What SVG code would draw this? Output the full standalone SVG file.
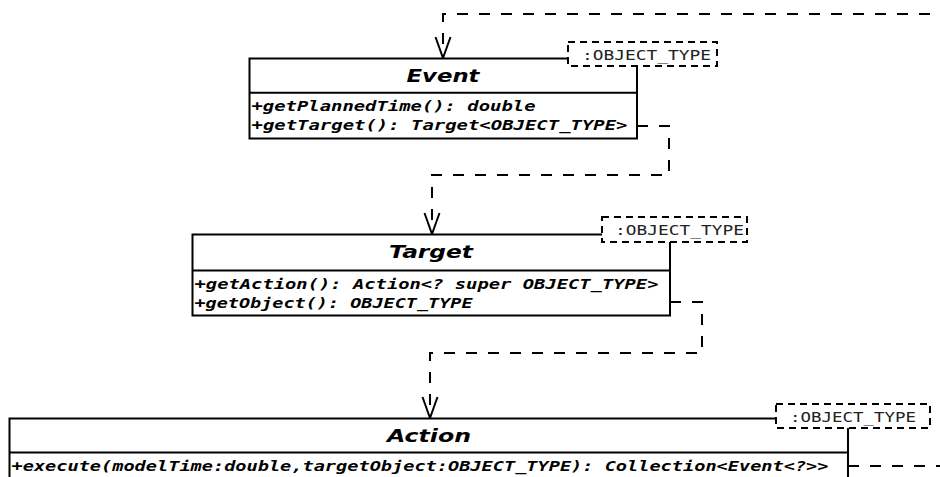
<svg xmlns="http://www.w3.org/2000/svg" width="940" height="477" viewBox="0 0 940 477">
<style>
.box{fill:#fff;stroke:#000;stroke-width:2}
.div{stroke:#000;stroke-width:2}
.tmpl{fill:#fff;stroke:#000;stroke-width:2;stroke-dasharray:7 5}
.name{font-family:"DejaVu Sans",sans-serif;font-weight:bold;font-style:italic;font-size:18px;fill:#000}
.meth{font-family:"DejaVu Sans Mono",monospace;font-weight:bold;font-style:italic;font-size:14px;fill:#000}
.tt{font-family:"DejaVu Sans Mono",monospace;font-size:14.5px;fill:#222}
.con{fill:none;stroke:#000;stroke-width:2;stroke-dasharray:11 11}
</style>
<defs>
<marker id="open" markerUnits="userSpaceOnUse" viewBox="-23 -10 26 20" refX="0" refY="0" markerWidth="26" markerHeight="20" orient="auto" overflow="visible">
<path d="M-21,-7.5 L0,0 L-21,7.5" fill="none" stroke="#000" stroke-width="2" stroke-dasharray="none"/>
</marker>
</defs>
<g id="connectors">
<path class="con" d="M848,466 H960 V14 H443 V58" marker-end="url(#open)"/>
<path class="con" d="M637,126 H669 V175 H432 V234" marker-end="url(#open)"/>
<path class="con" d="M670,302 H702 V353 H430 V418" marker-end="url(#open)"/>
</g>
<g id="event">
<rect class="box" x="249.5" y="58.5" width="387.5" height="80"/>
<line class="div" x1="249.5" y1="92.7" x2="637" y2="92.7"/>
<text class="name" x="443" y="81.7" text-anchor="middle" textLength="73" lengthAdjust="spacingAndGlyphs">Event</text>
<text class="meth" x="251.5" y="111" textLength="284" lengthAdjust="spacingAndGlyphs">+getPlannedTime(): double</text>
<text class="meth" x="251.5" y="130" textLength="376" lengthAdjust="spacingAndGlyphs">+getTarget(): Target&lt;OBJECT_TYPE&gt;</text>
<rect class="tmpl" x="568" y="42" width="149" height="24"/>
<text class="tt" x="582" y="59.5" textLength="129" lengthAdjust="spacingAndGlyphs">:OBJECT_TYPE</text>
</g>
<g id="target">
<rect class="box" x="192.5" y="234.5" width="477.5" height="81"/>
<line class="div" x1="192.5" y1="270.5" x2="670" y2="270.5"/>
<text class="name" x="431" y="257.5" text-anchor="middle" textLength="84" lengthAdjust="spacingAndGlyphs">Target</text>
<text class="meth" x="194.5" y="289" textLength="464" lengthAdjust="spacingAndGlyphs">+getAction(): Action&lt;? super OBJECT_TYPE&gt;</text>
<text class="meth" x="194.5" y="307.5" textLength="278" lengthAdjust="spacingAndGlyphs">+getObject(): OBJECT_TYPE</text>
<rect class="tmpl" x="602" y="217" width="145" height="25"/>
<text class="tt" x="615" y="235" textLength="129" lengthAdjust="spacingAndGlyphs">:OBJECT_TYPE</text>
</g>
<g id="action">
<rect class="box" x="9.5" y="418.5" width="838.5" height="90"/>
<line class="div" x1="9.5" y1="452.5" x2="848" y2="452.5"/>
<text class="name" x="429" y="441.5" text-anchor="middle" textLength="84" lengthAdjust="spacingAndGlyphs">Action</text>
<text class="meth" x="11.5" y="471" textLength="817" lengthAdjust="spacingAndGlyphs">+execute(modelTime:double,targetObject:OBJECT_TYPE): Collection&lt;Event&lt;?&gt;&gt;</text>
<rect class="tmpl" x="776" y="404" width="154" height="24"/>
<text class="tt" x="790" y="421.5" textLength="126" lengthAdjust="spacingAndGlyphs">:OBJECT_TYPE</text>
</g>
</svg>
